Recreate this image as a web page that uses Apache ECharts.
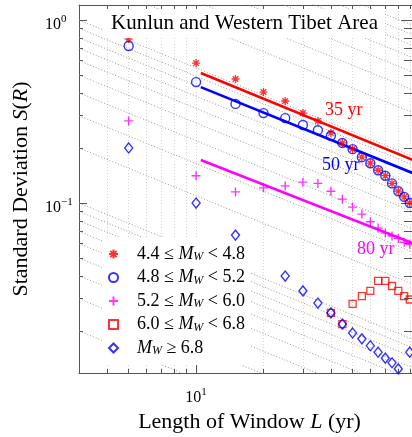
<!DOCTYPE html>
<html><head><meta charset="utf-8">
<script src="https://cdn.jsdelivr.net/npm/echarts@6/dist/echarts.min.js"></script>
<style>html,body{margin:0;padding:0;background:#fff}#c{width:412px;height:437px}</style>
</head><body><div id="c"></div>
<script>
// ---- data ----
const windowLengths = [5,10,15,20,25,30,35,40,45,50,55,60,65,70,75,80,85,90];
const sdMw44to48 = [0.787,0.582,0.476,0.404,0.361,0.310,0.281,0.241,0.213,0.197,0.178,0.165,0.151,0.141,0.128,0.116,0.108,0.100];
const sdMw48to52 = [0.721,0.458,0.348,0.310,0.291,0.267,0.250,0.233,0.213,0.197,0.178,0.165,0.151,0.141,0.128,0.116,0.108,0.100];
const sdMw52to60 = [0.281,0.141,0.115,0.121,0.124,0.130,0.128,0.116,0.105,0.095,0.087,0.079,0.073,0.0685,0.066,0.064,0.061,0.0595];
const sdMw60to68 = [null,null,null,null,null,null,null,0.0251,0.0218,0.0281,0.0310,0.0331,0.0375,0.0375,0.0352,0.0331,0.0310,0.0297];
const sdMw68up   = [0.20,0.10,0.0668,null,0.0399,0.0331,0.0284,0.0251,0.0218,0.0195,0.0181,0.0166,0.0153,0.0142,0.0134,0.0124,null,0.0153];

// fitted lines (two end points each)
const fitL = [10.5, 100];
const fit35yr = [0.513, 0.1655];
const fit50yr = [0.430, 0.1405];
const fit80yr = [0.172, 0.0582];

// dotted guide lines of slope -1/2: values at L = 3 and at L = 100
const guideSlope = -0.5;
const guideAtL3 = [1.0,0.9,0.8,0.7,0.6,0.5,0.4,0.3,0.2,0.1,0.09,0.08,0.07,0.06,0.05,0.04,0.03,0.02];
const guideAtL100 = [0.9,0.8,0.7,0.6,0.5,0.4,0.3];

// axes
const xRange = [3, 100];
const yRange = [0.01178, 1.208];
const xMajorTicks = [10, 100];
const xMinorTicks = [4,5,6,7,8,9,20,30,40,50,60,70,80,90];
const yMajorTicks = [0.1, 1];
const yMinorTicks = [0.02,0.03,0.04,0.05,0.06,0.07,0.08,0.09,0.2,0.3,0.4,0.5,0.6,0.7,0.8,0.9];
const xTickLabels = {10: '1'};
const yTickLabels = {0.1: '\u22121', 1: '0'};

const seriesNames = ['a44','b48','c52','d60','e68'];
const legendRich = {
  a44: '{g|}{n|4.4 \u2264 }{i|M}{s|W}{n| < 4.8}',
  b48: '{g|}{n|4.8 \u2264 }{i|M}{s|W}{n| < 5.2}',
  c52: '{g|}{n|5.2 \u2264 }{i|M}{s|W}{n| < 6.0}',
  d60: '{g|}{n|6.0 \u2264 }{i|M}{s|W}{n| < 6.8}',
  e68: '{g|}{i|M}{s|W}{n| \u2265 6.8}'
};

const SERIF = 'Liberation Serif';
const RED = '#ff0000', BLUE = '#0000ff', MAG = '#ff00ff';
const AX = '#555555';

function pairs(arr){ return windowLengths.map((L,i)=> arr[i]==null?null:[L,arr[i]]).filter(Boolean); }

const supRich = {
  b: {fontSize: 16, fontFamily: SERIF, color: '#000', verticalAlign: 'bottom', lineHeight: 19},
  e: {fontSize: 11, fontFamily: SERIF, color: '#000', verticalAlign: 'top', lineHeight: 19}
};

function xAxisDef(pos, ticks, len, isMajor, showLabel){
  return {
    type: 'log', logBase: 10, min: xRange[0], max: xRange[1], position: pos,
    axisLine: {show: isMajor, onZero: false, lineStyle: {color: AX, width: 1}},
    axisTick: {show: true, inside: true, length: len, customValues: ticks, lineStyle: {color: AX, width: 1}},
    axisLabel: showLabel ? {show: true, customValues: [10], margin: 14,
      formatter: v => xTickLabels[v] ? '{b|10}{e|' + xTickLabels[v] + '}' : '', rich: supRich} : {show: false},
    splitLine: {show: pos === 'bottom', lineStyle: {color: '#d4d4d4', type: [1, 2], width: 1}},
    minorTick: {show: false}, minorSplitLine: {show: false}
  };
}
function yAxisDef(pos, ticks, len, isMajor, showLabel){
  return {
    type: 'log', logBase: 10, min: yRange[0], max: yRange[1], position: pos,
    axisLine: {show: isMajor, onZero: false, lineStyle: {color: AX, width: 1}},
    axisTick: {show: true, inside: true, length: len, customValues: ticks, lineStyle: {color: AX, width: 1}},
    axisLabel: showLabel ? {show: true, customValues: yMajorTicks, margin: 34, align: 'left', padding: [7, 0, 0, 0],
      formatter: v => { const k = Object.keys(yTickLabels).find(t => Math.abs(+t - v) < 1e-9); return k ? '{b|10}{e|' + yTickLabels[k] + '}' : ''; },
      rich: supRich} : {show: false},
    splitLine: {show: false}, minorTick: {show: false}, minorSplitLine: {show: false}
  };
}

const nameRich = {r: {fontSize: 22, fontFamily: SERIF, color: '#000'}, i: {fontSize: 22, fontFamily: SERIF, fontStyle: 'italic', color: '#000'}};
const xAxes = [
  Object.assign(xAxisDef('bottom', xMajorTicks, 8, true, true), {
    name: '{r|Length of Window }{i|L}{r| (yr)}', nameLocation: 'middle', nameGap: 35,
    nameTextStyle: {rich: nameRich}
  }),
  xAxisDef('bottom', xMinorTicks, 4, false, false),
  xAxisDef('top', xMajorTicks, 8, true, false),
  xAxisDef('top', xMinorTicks, 4, false, false)
];
const yAxes = [
  Object.assign(yAxisDef('left', yMajorTicks, 8, true, true), {
    name: '{r|Standard Deviation }{i|S}{r|(}{i|R}{r|)}', nameLocation: 'middle', nameGap: 47, nameRotate: 90,
    nameTextStyle: {rich: nameRich}
  }),
  yAxisDef('left', yMinorTicks, 4, false, false),
  yAxisDef('right', yMajorTicks, 19, true, false),
  yAxisDef('right', yMinorTicks, 16, false, false)
];

const series = [];
guideAtL3.forEach(v => {
  series.push({type: 'line', silent: true, symbol: 'none', z: 1,
    data: [[3, v], [100, v * Math.pow(100/3, guideSlope)]],
    lineStyle: {color: '#8c8c8c', width: 0.9, type: [1, 2]}});
});
guideAtL100.forEach(v => {
  series.push({type: 'line', silent: true, symbol: 'none', z: 1,
    data: [[3, v * Math.pow(3/100, guideSlope)], [100, v]],
    lineStyle: {color: '#8c8c8c', width: 0.9, type: [1, 2]}});
});
[[fit35yr, RED], [fit50yr, BLUE], [fit80yr, MAG]].forEach(([f, c]) => {
  series.push({type: 'line', silent: true, symbol: 'none', z: 3,
    data: fitL.map((L, i) => [L, f[i]]), lineStyle: {color: c, width: 2.6}});
});
const STAR = 'path://M5,0L5,10M0,5L10,5M1.5,1.5L8.5,8.5M1.5,8.5L8.5,1.5';
const PLUS = 'path://M5,0L5,10M0,5L10,5';
series.push({name: 'a44', type: 'scatter', z: 5, data: pairs(sdMw44to48), symbol: STAR, symbolSize: 8,
  itemStyle: {color: 'rgba(0,0,0,0)', borderColor: RED, borderWidth: 1.3}});
series.push({name: 'b48', type: 'scatter', z: 5, data: pairs(sdMw48to52), symbol: 'circle', symbolSize: 9,
  itemStyle: {color: 'rgba(0,0,0,0)', borderColor: BLUE, borderWidth: 1.4}});
series.push({name: 'c52', type: 'scatter', z: 5, data: pairs(sdMw52to60), symbol: PLUS, symbolSize: 9,
  itemStyle: {color: 'rgba(0,0,0,0)', borderColor: MAG, borderWidth: 1.4}});
series.push({name: 'd60', type: 'scatter', z: 5, data: pairs(sdMw60to68), symbol: 'rect', symbolSize: 7,
  itemStyle: {color: 'rgba(0,0,0,0)', borderColor: RED, borderWidth: 1.3}});
series.push({name: 'e68', type: 'scatter', z: 5, data: pairs(sdMw68up), symbol: 'diamond', symbolSize: [8, 10],
  itemStyle: {color: 'rgba(0,0,0,0)', borderColor: BLUE, borderWidth: 1.4}});

const legRich = {
  g: {width: 14, lineHeight: 18},
  n: {fontSize: 18, fontFamily: SERIF, color: '#000', lineHeight: 18},
  i: {fontSize: 18, fontFamily: SERIF, fontStyle: 'italic', color: '#000', lineHeight: 18},
  s: {fontSize: 12, fontFamily: SERIF, fontStyle: 'italic', color: '#000', lineHeight: 18, verticalAlign: 'bottom'}
};

const chart = echarts.init(document.getElementById('c'), null, {renderer: 'canvas'});
chart.setOption({
  animation: false,
  backgroundColor: '#fff',
  grid: {left: 79, top: 5, right: -8, bottom: 64, containLabel: false, outerBoundsMode: 'none'},
  title: {text: 'Kunlun and Western Tibet Area', left: 104, top: 9, padding: [4, 7, 4, 7],
    backgroundColor: '#fff', textStyle: {fontSize: 21, fontFamily: SERIF, fontWeight: 'normal', color: '#000'}},
  legend: {data: seriesNames, orient: 'vertical', left: 102, top: 237, padding: [8, 6, 8, 6],
    itemWidth: 9, itemHeight: 9, itemGap: 5.5, backgroundColor: '#fff', selectedMode: false,
    formatter: n => legendRich[n], textStyle: {rich: legRich}},
  xAxis: xAxes,
  yAxis: yAxes,
  graphic: [
    {type: 'text', left: 325, top: 101, style: {text: '35 yr', fill: RED, font: '18px "Liberation Serif"'}, z: 10},
    {type: 'text', left: 322, top: 156, style: {text: '50 yr', fill: BLUE, font: '18px "Liberation Serif"'}, z: 10},
    {type: 'text', left: 357, top: 240, style: {text: '80 yr', fill: MAG, font: '18px "Liberation Serif"'}, z: 10}
  ],
  series: series
});
</script></body></html>
